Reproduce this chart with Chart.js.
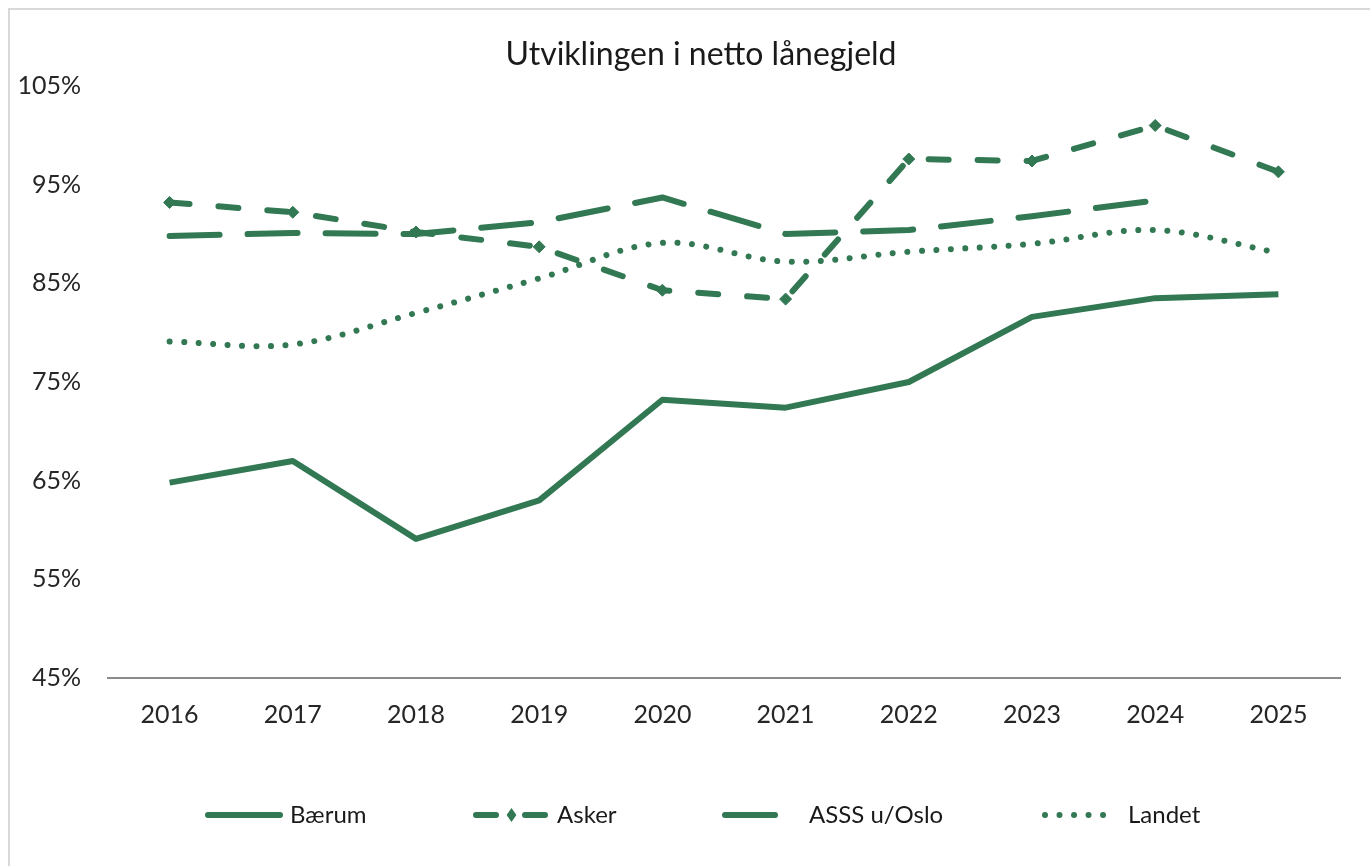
<!DOCTYPE html>
<html>
<head>
<meta charset="utf-8">
<script src="https://cdn.jsdelivr.net/npm/chart.js@4"></script>
<style>
  body { margin: 0; background: #fff; }
  #wrap { position: absolute; left: 0; top: 0; width: 1370px; height: 866px; }
</style>
</head>
<body>
<div id="wrap"><canvas id="chart" width="1370" height="866"></canvas></div>
<script>
const years = ["2016", "2017", "2018", "2019", "2020", "2021", "2022", "2023", "2024", "2025"];
const baerum = [64.8, 67.0, 59.1, 63.0, 73.2, 72.4, 75.0, 81.6, 83.5, 83.9];
const asker = [93.2, 92.2, 90.2, 88.7, 84.3, 83.4, 97.6, 97.4, 101.0, 96.3];
const asss = [89.8, 90.1, 90.0, 91.2, 93.7, 90.0, 90.4, 91.8, 93.4, null];
const landet = [79.1, 78.8, 82.0, 85.5, 89.1, 87.2, 88.2, 89.0, 90.4, 88.1];
const seriesNames = ["Bærum", "Asker", "ASSS u/Oslo", "Landet"];
const titleText = "Utviklingen i netto lånegjeld";

const green = "#317853";
const font = "Lato, 'Open Sans', sans-serif";

// title, frame and legend drawn by hand (Excel style legend samples)
const decor = {
  id: "decor",
  afterDraw(chart) {
    const ctx = chart.ctx;
    ctx.save();
    ctx.strokeStyle = "#d9d9d9";
    ctx.lineWidth = 2;
    ctx.beginPath();
    ctx.moveTo(9, 866);
    ctx.lineTo(9, 9);
    ctx.lineTo(1370, 9);
    ctx.stroke();

    ctx.fillStyle = "#1a1a1a";
    ctx.font = "32px " + font;
    ctx.textAlign = "center";
    ctx.textBaseline = "middle";
    ctx.fillText(titleText, 701, 55);

    ctx.font = "24px " + font;
    ctx.textAlign = "left";
    const y = 815;
    const starts = [205, 473, 722, 1042];
    const lens = [78, 77, 56, 76];
    const textX = [290, 557, 809, 1128];
    chart.data.datasets.forEach((ds, i) => {
      const x = starts[i];
      ctx.strokeStyle = ds.borderColor;
      ctx.lineWidth = ds.borderWidth;
      ctx.lineCap = "round";
      ctx.setLineDash(ds.borderDash || []);
      ctx.beginPath();
      ctx.moveTo(x + 3, y);
      ctx.lineTo(x + lens[i] - 3, y);
      ctx.stroke();
      ctx.setLineDash([]);
      if (ds.pointRadius > 0) {
        const cx = x + lens[i] / 2;
        const r = ds.pointRadius + 1;
        ctx.fillStyle = ds.borderColor;
        ctx.beginPath();
        ctx.moveTo(cx, y - r);
        ctx.lineTo(cx + r * 0.7, y);
        ctx.lineTo(cx, y + r);
        ctx.lineTo(cx - r * 0.7, y);
        ctx.closePath();
        ctx.fill();
      }
      ctx.fillStyle = "#1a1a1a";
      ctx.fillText(ds.label, textX[i], y);
    });
    ctx.restore();
  },
};

const chart = document.querySelector("#chart").getContext("2d");

new Chart(chart, {
  type: "line",
  data: {
    labels: years,
    datasets: [
      {
        label: seriesNames[0],
        data: baerum,
        borderColor: green,
        borderWidth: 6,
        pointRadius: 0,
        tension: 0,
      },
      {
        label: seriesNames[1],
        data: asker,
        borderColor: green,
        backgroundColor: green,
        borderWidth: 6,
        borderDash: [20, 29],
        borderCapStyle: "round",
        pointStyle: "rectRot",
        pointRadius: 6,
        pointBorderWidth: 1,
        tension: 0,
      },
      {
        label: seriesNames[2],
        data: asss,
        borderColor: green,
        borderWidth: 6,
        borderDash: [50, 28],
        borderCapStyle: "round",
        pointRadius: 0,
        tension: 0,
      },
      {
        label: seriesNames[3],
        data: landet,
        borderColor: green,
        borderWidth: 6,
        borderDash: [0.01, 14.5],
        borderCapStyle: "round",
        pointRadius: 0,
        tension: 0.35,
      },
    ],
  },
  options: {
    responsive: false,
    animation: false,
    layout: { padding: { left: 0, right: 30, top: 86, bottom: 0 } },
    elements: { line: { borderJoinStyle: "round" } },
    plugins: {
      legend: { display: false },
      title: { display: false },
      tooltip: { enabled: false },
    },
    scales: {
      x: {
        offset: true,
        grid: { display: false, drawTicks: false },
        border: { display: true, color: "#8c8c8c", width: 2 },
        ticks: { padding: 22, color: "#262626", font: { family: font, size: 25 } },
        afterFit(scale) {
          scale.height = 188;
        },
      },
      y: {
        min: 45,
        max: 105,
        grid: { display: false, drawTicks: false },
        border: { display: false },
        ticks: {
          stepSize: 10,
          padding: 27,
          color: "#262626",
          font: { family: font, size: 25 },
          callback: (v) => v + "%",
        },
        afterFit(scale) {
          scale.width = 108;
        },
      },
    },
  },
  plugins: [decor],
});
</script>
</body>
</html>
